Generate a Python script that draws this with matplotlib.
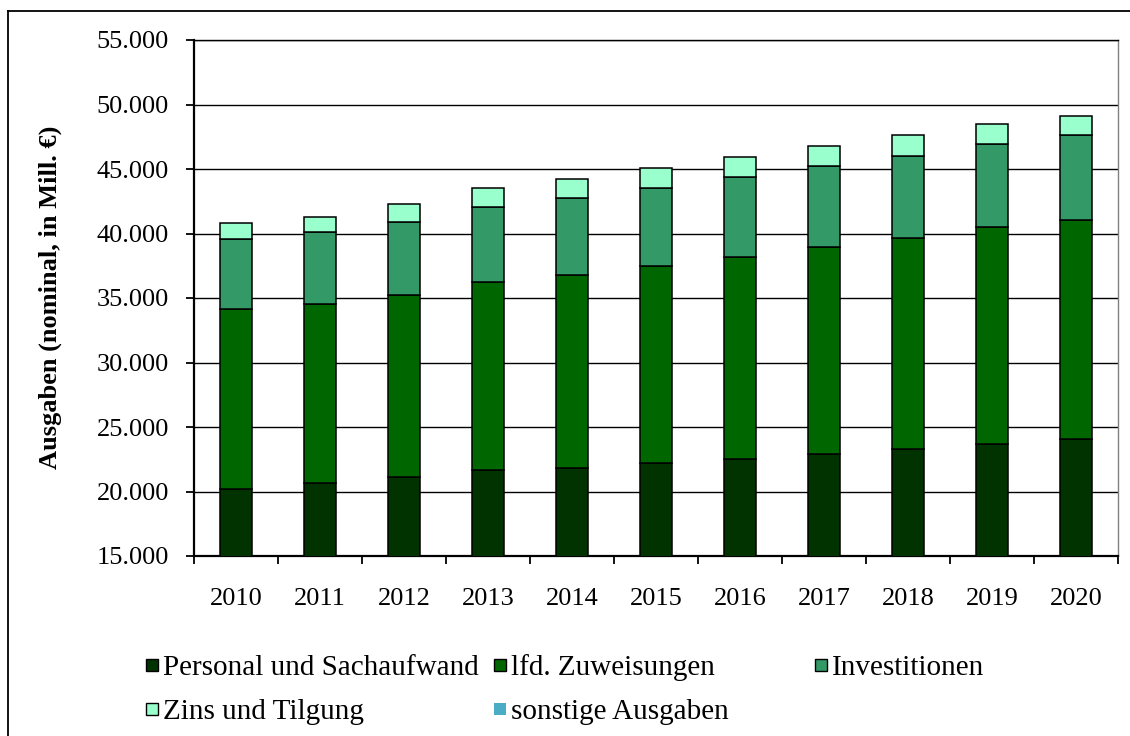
import matplotlib

matplotlib.use("Agg")
import matplotlib.pyplot as plt  # noqa: E402
import numpy as np  # noqa: E402
from matplotlib.lines import Line2D  # noqa: E402
from matplotlib.patches import Rectangle  # noqa: E402
from matplotlib.ticker import FuncFormatter, FixedLocator  # noqa: E402

plt.rcParams["font.family"] = ["Liberation Serif", "DejaVu Serif"]

# Ausgaben in Mill. EUR (nominal)
years = ["2010", "2011", "2012", "2013", "2014", "2015",
         "2016", "2017", "2018", "2019", "2020"]
personal = [20170, 20680, 21100, 21670, 21800, 22180, 22520, 22900, 23270, 23660, 24050]
zuweisungen = [13980, 13880, 14160, 14550, 15010, 15320, 15680, 16050, 16400, 16820, 17000]
investitionen = [5450, 5530, 5660, 5860, 5970, 6050, 6180, 6260, 6360, 6480, 6560]
zins = [1190, 1210, 1370, 1450, 1470, 1550, 1570, 1570, 1610, 1500, 1520]
sonstige = [0, 0, 0, 0, 0, 0, 0, 0, 0, 0, 0]

labels = ["Personal und Sachaufwand", "lfd. Zuweisungen", "Investitionen",
          "Zins und Tilgung", "sonstige Ausgaben"]
colors = ["#003300", "#006600", "#339966", "#99ffcc", "#4bacc6"]

W, H = 1130, 736
fig = plt.figure(figsize=(W / 100, H / 100), dpi=100)
ax = fig.add_axes([194 / W, 1 - 556 / H, (1118 - 194) / W, (556 - 40) / H])

x = np.arange(len(years))
bottom = np.zeros(len(years))
for series, col in zip([personal, zuweisungen, investitionen, zins, sonstige], colors):
    vals = np.array(series, dtype=float)
    if vals.any():
        ax.bar(x, vals, bottom=bottom, width=0.39, color=col,
               edgecolor="black", linewidth=1.1, zorder=3)
    bottom += vals

ax.set_xlim(-0.5, len(years) - 0.5)
ax.set_ylim(15000, 55000)
ax.set_yticks(np.arange(15000, 55001, 5000))
ax.yaxis.set_major_formatter(FuncFormatter(lambda v, _: f"{v:,.0f}".replace(",", ".")))
ax.grid(True, axis="y", color="black", lw=1.0, zorder=1)

# category labels centred, tick marks between categories
ax.xaxis.set_major_locator(FixedLocator(np.arange(-0.5, len(years), 1.0)))
ax.xaxis.set_major_formatter(FuncFormatter(lambda v, _: ""))
ax.set_xticks(x, minor=True)
ax.set_xticklabels(years, minor=True)
ax.tick_params(axis="x", which="minor", length=0, pad=23, labelsize=19)
ax.tick_params(axis="x", which="major", length=6, width=1.3, direction="out")
ax.tick_params(axis="y", length=6, width=1.3, direction="out", pad=12, labelsize=19)

for s in ("left", "bottom"):
    ax.spines[s].set_linewidth(1.6)
ax.spines["top"].set_linewidth(1.0)
ax.spines["right"].set_color("#808080")
ax.spines["right"].set_linewidth(1.0)

fig.text(50 / W, 1 - 297 / H, "Ausgaben (nominal, in Mill. €)", rotation=90,
         ha="center", va="center", fontsize=19, fontweight="bold")

# legend drawn by hand to match the spreadsheet layout
rows = [665, 709]
cols = [146, 494, 815]
slots = [(cols[0], rows[0]), (cols[1], rows[0]), (cols[2], rows[0]),
         (cols[0], rows[1]), (cols[1], rows[1])]
sq = 12
for (lx, ly), lab, col in zip(slots, labels, colors):
    edge = "none" if lab == "sonstige Ausgaben" else "black"
    fig.add_artist(Rectangle((lx / W, 1 - (ly + sq / 2) / H), sq / W, sq / H,
                             transform=fig.transFigure, facecolor=col,
                             edgecolor=edge, linewidth=1.0))
    fig.text((lx + sq + 5) / W, 1 - ly / H, lab, ha="left", va="center_baseline",
             fontsize=21)

# outer chart frame (cropped on the right and bottom)
fig.add_artist(Line2D([8 / W, 1.0], [1 - 11 / H, 1 - 11 / H],
                      transform=fig.transFigure, color="black", lw=1.3))
fig.add_artist(Line2D([8 / W, 8 / W], [0.0, 1 - 11 / H],
                      transform=fig.transFigure, color="black", lw=1.3))

fig.savefig("out.png", dpi=100)
